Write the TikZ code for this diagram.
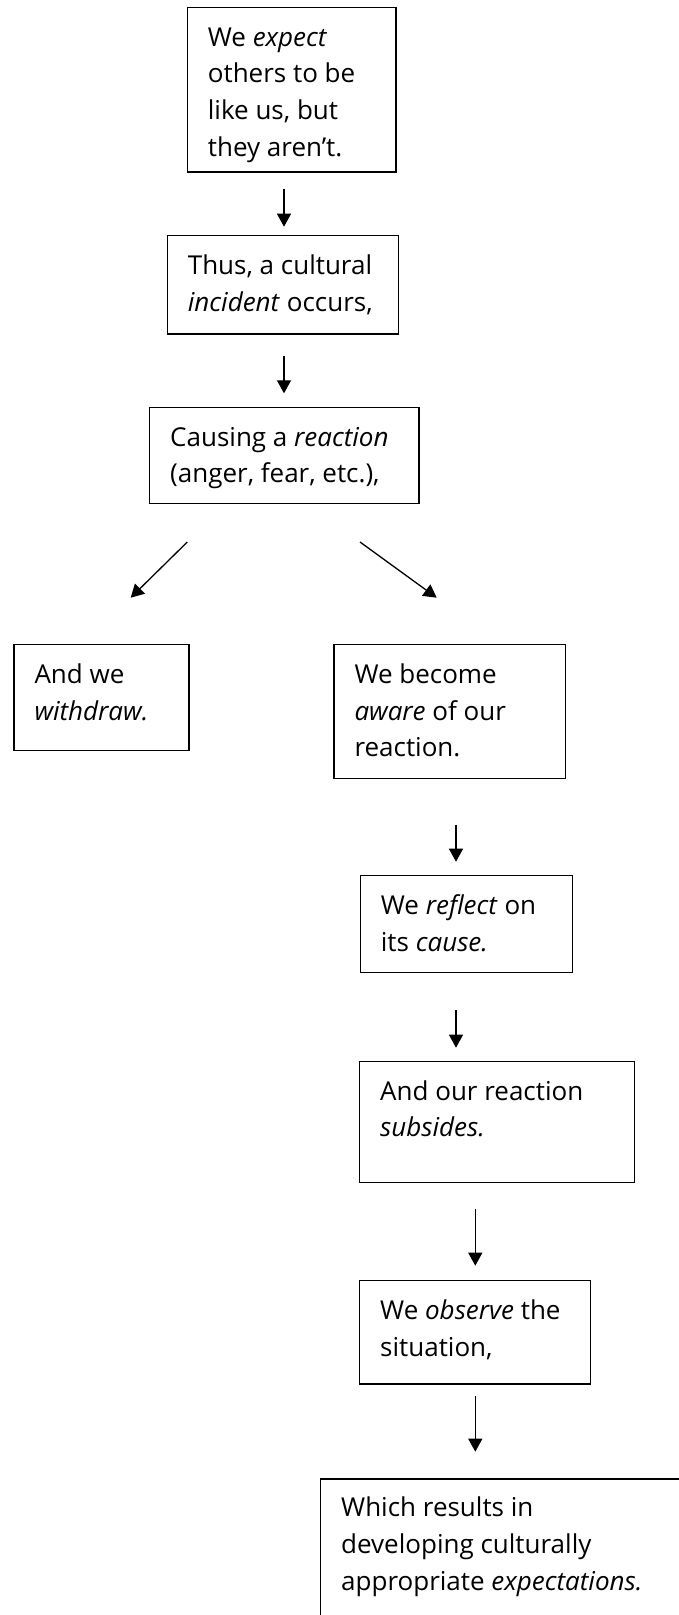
\documentclass[tikz,border=0pt]{standalone}
\usepackage{fontspec}
\setmainfont{Open Sans}
\usetikzlibrary{arrows.meta}

\tikzset{
  box/.style={draw, line width=1.3pt, anchor=north west, inner sep=0pt},
  txt/.style={anchor=base west, inner sep=0pt,
              font=\fontsize{26}{36.6}\selectfont},
  flow/.style={line width=1.3pt, -{Triangle[length=13pt,width=14pt]}}
}
\newcommand{\lines}[1]{\parbox[t]{380pt}{\raggedright #1}}

\begin{document}
\begin{tikzpicture}[x=1pt, y=-1pt]
  \useasboundingbox (0, 0) rectangle (679, 1615);
  \clip             (0, 0) rectangle (679, 1615);

  \node[box, minimum width=208.6pt, minimum height=164.6pt] (expect)   at (186.7,    6.7) {};
  \node[box, minimum width=231.3pt, minimum height= 98.3pt] (incident) at (166.7,  235.0) {};
  \node[box, minimum width=269.3pt, minimum height= 96.0pt] (reaction) at (149.0,  406.7) {};
  \node[box, minimum width=175.0pt, minimum height=106.0pt] (withdraw) at ( 13.3,  644.0) {};
  \node[box, minimum width=231.7pt, minimum height=133.7pt] (aware)    at (333.3,  644.0) {};
  \node[box, minimum width=212.0pt, minimum height= 96.7pt] (reflect)  at (359.7,  875.0) {};
  \node[box, minimum width=274.7pt, minimum height=121.3pt] (subsides) at (359.0, 1060.7) {};
  \node[box, minimum width=231.0pt, minimum height=103.3pt] (observe)  at (359.0, 1280.0) {};
  \node[box, minimum width=400.0pt, minimum height=200.0pt] (develop)  at (320.0, 1478.3) {};

  \node[txt] (expect-t)   at ([shift={(21pt,-39.5pt)}]expect.north west)
    {\lines{We \emph{expect}\\ others to be\\ like us, but\\ they aren’t.}};
  \node[txt] (incident-t) at ([shift={(21pt,-39.5pt)}]incident.north west)
    {\lines{Thus, a cultural\\ \emph{incident} occurs,}};
  \node[txt] (reaction-t) at ([shift={(21pt,-39.5pt)}]reaction.north west)
    {\lines{Causing a \emph{reaction}\\ (anger, fear, etc.),}};
  \node[txt] (withdraw-t) at ([shift={(21pt,-39.5pt)}]withdraw.north west)
    {\lines{And we\\ \emph{withdraw.}}};
  \node[txt] (aware-t)    at ([shift={(21pt,-39.5pt)}]aware.north west)
    {\lines{We become\\ \emph{aware} of our\\ reaction.}};
  \node[txt] (reflect-t)  at ([shift={(21pt,-39.5pt)}]reflect.north west)
    {\lines{We \emph{reflect} on\\ its \emph{cause.}}};
  \node[txt] (subsides-t) at ([shift={(21pt,-39.5pt)}]subsides.north west)
    {\lines{And our reaction\\ \emph{subsides.}}};
  \node[txt] (observe-t)  at ([shift={(21pt,-39.5pt)}]observe.north west)
    {\lines{We \emph{observe} the\\ situation,}};
  \node[txt] (develop-t)  at ([shift={(21pt,-38.5pt)}]develop.north west)
    {\lines{Which results in\\ developing culturally\\ appropriate \emph{expectations.}}};

  \coordinate (a1s) at (284.0,  189.3);  \coordinate (a1e) at (284.0,  226.7);
  \coordinate (a2s) at (284.0,  355.7);  \coordinate (a2e) at (284.0,  393.3);
  \coordinate (a3s) at (187.3,  542.0);  \coordinate (a3e) at (130.7,  597.7);
  \coordinate (a4s) at (360.0,  542.0);  \coordinate (a4e) at (436.7,  597.7);
  \coordinate (a5s) at (456.0,  824.5);  \coordinate (a5e) at (456.0,  861.7);
  \coordinate (a6s) at (456.0, 1010.0);  \coordinate (a6e) at (456.0, 1047.7);
  \coordinate (a7s) at (475.3, 1209.0);  \coordinate (a7e) at (475.3, 1265.7);
  \coordinate (a8s) at (475.3, 1395.5);  \coordinate (a8e) at (475.3, 1451.7);

  \draw[flow] (a1s) -- (a1e);
  \draw[flow] (a2s) -- (a2e);
  \draw[flow] (a3s) -- (a3e);
  \draw[flow] (a4s) -- (a4e);
  \draw[flow] (a5s) -- (a5e);
  \draw[flow] (a6s) -- (a6e);
  \draw[flow] (a7s) -- (a7e);
  \draw[flow] (a8s) -- (a8e);
\end{tikzpicture}
\end{document}
